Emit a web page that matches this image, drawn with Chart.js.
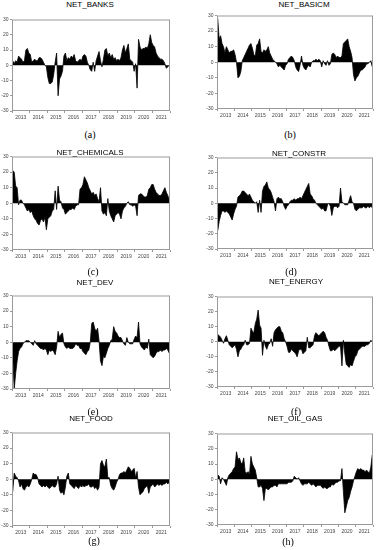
<!DOCTYPE html>
<html>
<head>
<meta charset="utf-8">
<script src="https://cdn.jsdelivr.net/npm/chart.js@4/dist/chart.umd.min.js"></script>
<style>
  body { margin: 0; background: #fff; }
  #page { position: relative; width: 376px; height: 550px; overflow: hidden; }
  canvas { position: absolute; }
  .ttl { position: absolute; font: 8px "Liberation Sans", Arial, sans-serif; line-height: 8px; color: #000; transform: translateX(-50%); white-space: nowrap; }
  .cap { position: absolute; font: 10px "Liberation Serif", "Times New Roman", serif; line-height: 10px; color: #000; transform: translateX(-50%); }
</style>
</head>
<body>
<div id="page"></div>
<script>
// tick labels
const years = ["2013", "2014", "2015", "2016", "2017", "2018", "2019", "2020", "2021"];
const startYear = 2013;

// monthly values, Jan 2013 .. Dec 2021
const banks = [3, 1, 3, 2, 6, 5, 4, 2, 3, 10, 11, 8,
  7, 2, 3, 4, 3, 3, 5, 5, 4, 2, 0, -1,
  -8, -12, -12, -11, -6, 2, 8, -20, -9, -7, -4, 6,
  8, 3, 5, 4, 6, 5, 7, 3, 2, 3, 4, 3,
  6, 7, 6, 2, 0, -3, -4, 2, -4, 3, 6, 9,
  3, -1, 4, 10, 11, 6, 8, 5, 7, 4, 5, 3,
  4, 3, 5, 10, 13, 8, 11, 14, 4, 3, 2, -4,
  1, -15, 17, 12, 10, 11, 11, 12, 11, 14, 20, 15,
  13, 12, 8, 6, 5, 4, 4, 3, 1, -2, -1, 0];

const basicm = [28, 15, 17, 12, 10, 6, 10, 8, 6, 7, 7, 8,
  5, 0, -10, -9, -6, 1, 3, 5, 7, 9, 11, 12,
  9, 5, 4, 11, 12, 15, 7, 6, 8, 7, 8, 10,
  6, 4, 2, 1, 0, -1, -3, -2, -3, -4, -5, -2,
  -1, 2, 3, 4, 3, 1, -3, -5, -6, -2, 4, -2,
  -4, -5, -3, -2, -3, 0, 1, 1, 2, 1, 2, 1,
  -3, 1, -1, -2, 1, -2, -1, 5, 6, 5, 3, 4,
  3, 3, 4, 12, 13, 14, 15, 10, 7, 3, -8, -12,
  -10, -9, -7, -5, -5, -4, -3, -1, -1, 0, 1, -3];

const chemicals = [21, 20, 11, 10, -1, 2, 2, 0, -1, -3, -5, -4,
  -6, -5, -8, -10, -11, -13, -14, -11, -10, -12, -9, -17,
  -10, -9, -8, -5, -4, 8, -4, 11, 2, 1, -3, -4,
  -7, -6, -5, -4, -4, -3, -4, -2, -1, -1, 9, 10,
  12, 17, 15, 13, 10, 8, 6, 7, 5, 6, 3, 1,
  10, -5, -7, -6, -8, 3, -5, -8, -10, -12, -8, -7,
  -6, -7, -10, -5, -3, -2, 0, 1, -1, -1, -2, -1,
  -2, -8, 5, 6, 6, 5, 4, 4, 5, 9, 10, 12,
  12, 9, 7, 6, 5, 5, 6, 8, 10, 7, 5, 2];

const constr = [-18, -12, -8, -5, -5, -6, -5, -6, -7, -9, -11, -7,
  -4, -2, 4, 5, 6, 8, 8, 7, 6, 5, 6, 4,
  2, 1, 0, 1, -6, 2, -6, 8, 11, 12, 14, 10,
  9, 7, 4, 1, -5, 3, 4, 3, 3, 1, -2, -4,
  -2, -1, 1, 2, 2, 3, 2, 3, 3, 4, 3, 5,
  7, 9, 11, 13, 6, 5, 3, 2, 0, -1, -2, -3,
  -4, -3, -5, -5, -1, 0, -2, -8, -3, -2, -2, -3,
  -2, 10, 1, 0, -1, -1, -1, 2, 5, 1, 0, -4,
  -5, -4, -3, -3, -3, -2, -3, -3, -2, -3, -2, -3];

const dev = [-8, -30, -20, -12, -6, -4, -3, -1, 0, 1, 1, 1,
  0, -1, -2, 1, -1, -2, -3, -4, -4, -5, -4, -5,
  -8, -5, -6, -5, -6, -8, -3, 7, 3, 5, 6, -1,
  -3, -4, -3, -4, -4, -4, -3, -1, -2, -2, -4, -4,
  -6, -7, -8, -6, -5, 0, 12, 13, 9, 7, 9, 1,
  -12, -15, -9, -10, -7, -4, -2, 1, 2, 10, 7, 6,
  4, 3, 3, 1, -1, -2, 3, 0, -1, -1, -1, 2,
  4, 3, 13, -1, -3, -4, -5, -3, -4, 2, -8, -9,
  -10, -9, -7, -6, -6, -5, -6, -5, -5, -4, -5, -7];

const energy = [5, 4, 3, 1, -1, 2, 4, 1, -2, -3, -4, -3,
  -2, -5, -10, -6, -5, -3, -2, 1, -2, -2, -1, 9,
  7, 6, 12, 15, 21, 11, 9, -9, 1, -3, -5, -2,
  -1, 2, -3, 6, 8, 9, 10, 10, 7, 6, 2, 0,
  -3, -7, -7, -5, -6, -7, -8, -10, -6, -5, -5, -8,
  -7, -6, 3, -4, -4, -3, -2, 4, 6, 5, 4, 5,
  6, 7, 6, 3, 1, -3, -6, -6, -5, -6, -5, -4,
  -3, -3, -16, 1, -8, -15, -16, -17, -15, -16, -13, -10,
  -9, -6, -5, -4, -3, -3, -3, -2, -2, -1, 1, 0];

const food = [-8, 4, 2, 1, -1, -5, -3, -6, -7, -5, -4, -5,
  -3, 0, 4, 3, 3, 1, -3, -4, -5, -4, -5, -4,
  -5, -6, -5, -4, -5, -5, -3, 2, -7, -9, -8, -10,
  -5, 2, 4, -3, -4, -5, -6, -4, -5, -6, -4, -5,
  -4, -5, -4, -4, -3, -5, -5, -4, -6, -5, -7, -5,
  10, 12, 9, 8, 13, 1, 1, -4, -6, -7, -5, -2,
  0, 3, 4, 4, 5, 4, 6, 8, 7, 5, 6, 7,
  1, 5, -5, -10, -9, -8, -6, -5, -4, -9, -5, -4,
  -3, -5, -4, -3, -4, -3, -4, -3, -3, -2, -3, -2];

const oilGas = [3, 2, -3, 1, 0, -2, -4, 1, 3, 4, 5, 7,
  8, 18, 13, 14, 11, 10, 14, 5, 4, 5, 3, 15,
  10, 8, 6, 1, -5, -5, -4, -6, -14, -6, -6, -7,
  -6, -5, -5, -4, -4, -5, -3, -3, -3, -3, -3, -3,
  -3, -2, -2, -2, -1, 2, 1, 0, 1, -1, -3, -4,
  -3, -3, -3, -2, -3, -4, -3, -4, -5, -4, -4, -4,
  -5, -6, -5, -6, -6, -5, -5, -3, -4, -3, -2, -2,
  -1, -1, 7, -8, -22, -18, -14, -12, -8, -5, -1, 2,
  5, 7, 6, 7, 6, 6, 5, 6, 5, 4, 8, 16];

// panel layout: plot box in page pixels, title and caption anchors
const panels = [
  { name: "NET_BANKS", cap: "(a)", data: banks, box: [12, 19, 170, 111], t: [90, 5], c: [90, 135] },
  { name: "NET_BASICM", cap: "(b)", data: basicm, box: [217, 15, 373, 109], t: [304, 5], c: [290, 135] },
  { name: "NET_CHEMICALS", cap: "(c)", data: chemicals, box: [12, 156, 170, 250], t: [90, 153], c: [93, 272] },
  { name: "NET_CONSTR", cap: "(d)", data: constr, box: [217, 157, 373, 249], t: [299, 154], c: [291, 272] },
  { name: "NET_DEV", cap: "(e)", data: dev, box: [12, 295, 170, 389], t: [95, 283], c: [93, 412] },
  { name: "NET_ENERGY", cap: "(f)", data: energy, box: [217, 296, 373, 387], t: [296, 282], c: [296, 412] },
  { name: "NET_FOOD", cap: "(g)", data: food, box: [12, 432, 170, 526], t: [91, 419], c: [94, 541] },
  { name: "NET_OIL_GAS", cap: "(h)", data: oilGas, box: [217, 433, 373, 525], t: [295, 419], c: [288, 542] }
];

const Y_W = 14, X_H = 12, PAD_T = 4, PAD_R = 3;

// gray frame round the plot area
const framePlugin = {
  id: "frame",
  afterDraw(chart) {
    const a = chart.chartArea, ctx = chart.ctx;
    ctx.save();
    ctx.strokeStyle = "#9a9a9a";
    ctx.lineWidth = 1;
    ctx.strokeRect(a.left + 0.5, a.top + 0.5, a.right - a.left - 1, a.bottom - a.top - 1);
    ctx.restore();
  }
};

const page = document.getElementById("page");

function makePanel(p) {
  const [l, t, r, b] = p.box;
  const w = (r - l) + Y_W + PAD_R;
  const h = (b - t) + PAD_T + X_H;

  const cv = document.createElement("canvas");
  cv.width = w; cv.height = h;
  cv.style.left = (l - Y_W) + "px";
  cv.style.top = (t - PAD_T) + "px";
  cv.style.width = w + "px";
  cv.style.height = h + "px";
  page.appendChild(cv);

  const ttl = document.createElement("div");
  ttl.className = "ttl";
  ttl.textContent = p.name;
  ttl.style.left = p.t[0] + "px";
  ttl.style.top = (p.t[1] - 4) + "px";
  page.appendChild(ttl);

  const cap = document.createElement("div");
  cap.className = "cap";
  cap.textContent = p.cap;
  cap.style.left = p.c[0] + "px";
  cap.style.top = (p.c[1] - 5) + "px";
  page.appendChild(cap);

  const pts = p.data.map((v, i) => ({ x: startYear + (i + 0.5) / 12, y: v }));
  const halfYear = (r - l) / 18;

  new Chart(cv.getContext("2d"), {
    type: "line",
    data: {
      datasets: [{
        data: pts,
        fill: "origin",
        backgroundColor: "#000",
        borderColor: "#000",
        borderWidth: 0.8,
        pointRadius: 0,
        tension: 0
      }]
    },
    options: {
      responsive: false,
      animation: false,
      devicePixelRatio: 1,
      layout: { padding: { top: PAD_T, right: PAD_R, left: 0, bottom: 0 } },
      plugins: { legend: { display: false }, tooltip: { enabled: false } },
      scales: {
        x: {
          type: "linear",
          min: 2013, max: 2022,
          afterFit: s => { s.height = X_H; },
          border: { display: false },
          grid: { drawOnChartArea: false, drawTicks: true, tickLength: 2, color: "#9a9a9a" },
          ticks: {
            stepSize: 1, autoSkip: false, maxRotation: 0,
            labelOffset: halfYear, padding: 1.5,
            font: { size: 5, family: "Liberation Sans, Arial, sans-serif" }, color: "#444",
            callback: (v, i) => (i < years.length ? years[i] : "")
          }
        },
        y: {
          min: -30, max: 30,
          afterFit: s => { s.width = Y_W; },
          border: { display: false },
          grid: { drawOnChartArea: false, drawTicks: true, tickLength: 2, color: "#9a9a9a" },
          ticks: {
            stepSize: 10, padding: 1.5,
            font: { size: 5, family: "Liberation Sans, Arial, sans-serif" }, color: "#444"
          }
        }
      }
    },
    plugins: [framePlugin]
  });
}

panels.forEach(makePanel);
</script>
</body>
</html>
